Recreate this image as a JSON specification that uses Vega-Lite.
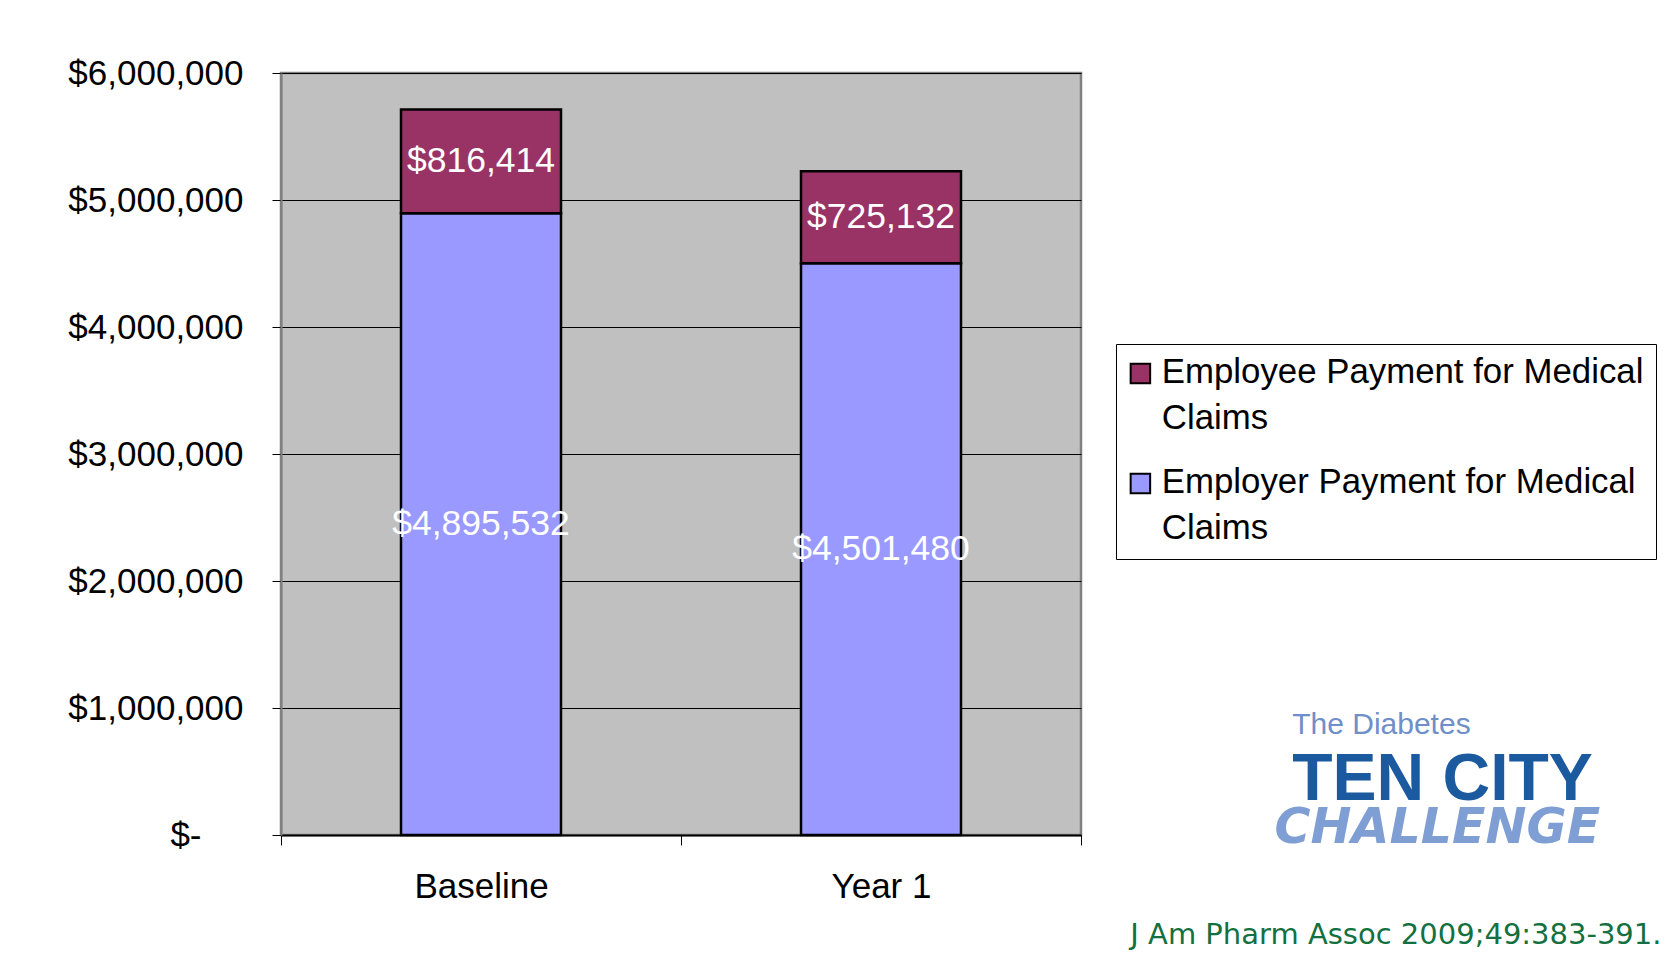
{
  "$schema": "https://vega.github.io/schema/vega-lite/v6.json",
  "width": 800,
  "height": 762,
  "autosize": {"type": "none"},
  "padding": {"left": 281, "top": 73, "right": 590, "bottom": 119},
  "background": "white",
  "config": {
    "font": "Liberation Sans",
    "view": {"fill": "#C0C0C0", "stroke": "#808080", "strokeWidth": 2.5},
    "style": {"guide-label": {"lineHeight": 46}}
  },
  "title": {
    "text": "J Am Pharm Assoc 2009;49:383-391.",
    "orient": "bottom",
    "anchor": "end",
    "frame": "bounds",
    "font": "DejaVu Sans",
    "fontSize": 29,
    "fontWeight": "normal",
    "color": "#137040",
    "offset": 17,
    "dx": 5
  },
  "datasets": {
    "claims": [
      {"period": "Baseline", "series": "Employer Payment for Medical Claims", "value": 4895532},
      {"period": "Baseline", "series": "Employee Payment for Medical Claims", "value": 816414},
      {"period": "Year 1", "series": "Employer Payment for Medical Claims", "value": 4501480},
      {"period": "Year 1", "series": "Employee Payment for Medical Claims", "value": 725132}
    ],
    "logo1": [{"line": "The Diabetes"}],
    "logo2": [{"line": "TEN CITY"}],
    "logo3": [{"line": "CHALLENGE"}]
  },
  "layer": [
    {
      "data": {"name": "claims"},
      "encoding": {
        "x": {
          "field": "period",
          "type": "nominal",
          "scale": {"paddingInner": 0, "paddingOuter": 0},
          "axis": {
            "title": null,
            "labelFontSize": 35,
            "labelColor": "black",
            "labelAngle": 0,
            "tickBand": "extent",
            "tickSize": 10,
            "tickColor": "black",
            "domainColor": "black",
            "domainWidth": 2,
            "labelPadding": 24,
            "grid": false
          }
        },
        "y": {
          "field": "value",
          "type": "quantitative",
          "stack": "zero",
          "scale": {"domain": [0, 6000000], "nice": false},
          "axis": {
            "title": null,
            "values": [0, 1000000, 2000000, 3000000, 4000000, 5000000, 6000000],
            "labelExpr": "datum.value == 0 ? '$-' : '$' + format(datum.value, ',')",
            "labelFontSize": 35,
            "labelColor": "black",
            "tickColor": "black",
            "tickSize": 9,
            "domainColor": "#808080",
            "domainWidth": 2,
            "grid": true,
            "gridColor": "black",
            "gridWidth": 1,
            "labelPadding": {"condition": {"test": "datum.value == 0", "value": 71}, "value": 29}
          }
        },
        "order": {"field": "series", "sort": "descending"}
      },
      "layer": [
        {
          "mark": {"type": "bar", "stroke": "black", "strokeWidth": 2.5, "width": {"band": 0.4}},
          "encoding": {
            "color": {
              "field": "series",
              "type": "nominal",
              "scale": {
                "domain": ["Employee Payment for Medical Claims", "Employer Payment for Medical Claims"],
                "range": ["#993366", "#9999FF"]
              },
              "legend": {
                "orient": "none",
                "legendX": 835,
                "legendY": 271,
                "title": null,
                "strokeColor": "black",
                "fillColor": "white",
                "padding": 12,
                "labelFontSize": 34.8,
                "labelColor": "black",
                "labelLimit": 0,
                "labelOffset": 4,
                "symbolOffset": -5,
                "labelExpr": "[replace(datum.label, ' Claims', ''), 'Claims']",
                "symbolType": "square",
                "symbolSize": 380,
                "symbolStrokeColor": "black",
                "symbolStrokeWidth": 2,
                "symbolOpacity": 1,
                "rowPadding": 28
              }
            }
          }
        },
        {
          "mark": {"type": "text", "color": "white", "fontSize": 35.5, "baseline": "middle"},
          "encoding": {
            "y": {"field": "value", "type": "quantitative", "stack": "zero", "bandPosition": 0.5},
            "detail": {"field": "series"},
            "text": {"field": "value", "format": "$,"}
          }
        }
      ]
    },
    {
      "data": {"name": "logo1"},
      "mark": {"type": "text", "align": "left", "baseline": "alphabetic", "fontSize": 30, "color": "#6F8FC8"},
      "encoding": {
        "x": {"datum": 1.264, "type": "quantitative", "scale": {"domain": [0, 1]}, "axis": null},
        "y": {"datum": 795000, "type": "quantitative"},
        "text": {"field": "line"}
      }
    },
    {
      "data": {"name": "logo2"},
      "mark": {"type": "text", "align": "left", "baseline": "alphabetic", "fontSize": 66, "fontWeight": "bold", "color": "#1B5A9E"},
      "encoding": {
        "x": {"datum": 1.264, "type": "quantitative", "scale": {"domain": [0, 1]}, "axis": null},
        "y": {"datum": 272000, "type": "quantitative"},
        "text": {"field": "line"}
      }
    },
    {
      "data": {"name": "logo3"},
      "mark": {"type": "text", "align": "left", "baseline": "alphabetic", "fontSize": 49, "font": "DejaVu Sans", "fontWeight": "bold", "fontStyle": "italic", "color": "#7F9FD4"},
      "encoding": {
        "x": {"datum": 1.242, "type": "quantitative", "scale": {"domain": [0, 1]}, "axis": null},
        "y": {"datum": -63000, "type": "quantitative"},
        "text": {"field": "line"}
      }
    }
  ],
  "resolve": {"scale": {"x": "independent"}}
}
